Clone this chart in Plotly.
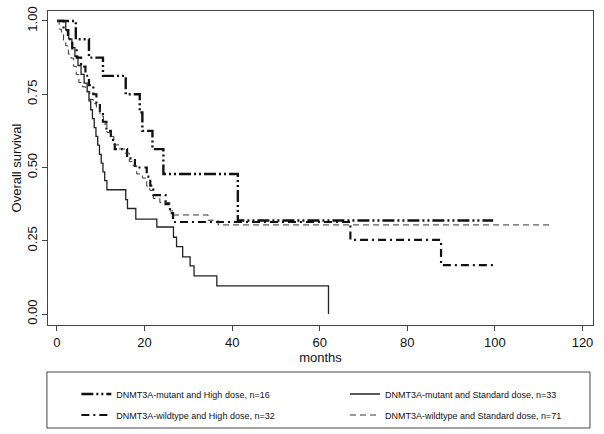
import plotly.graph_objects as go

# ---- data ----
mut_high_t = [0, 4.3, 7.3, 10.5, 15.7, 18.9, 19.5, 21.8, 24.3, 41.3, 99.6]
mut_high_s = [1.0, 0.9375, 0.875, 0.8125, 0.75, 0.6875, 0.625, 0.5625, 0.478, 0.319, 0.319]

mut_std_t = [0, 2.0, 2.7, 3.4, 4.1, 4.8, 5.5, 6.2, 6.9, 7.3, 7.7, 8.1, 8.5, 8.9, 9.3, 9.7,
             10.1, 10.5, 10.9, 11.4, 15.7, 16.1, 18.0, 22.8, 26.6, 27.3, 28.7, 30.4, 31.3,
             36.5, 62.0]
mut_std_s = [1.0, 0.970, 0.939, 0.909, 0.879, 0.848, 0.818, 0.788, 0.758, 0.727, 0.697,
             0.667, 0.636, 0.606, 0.576, 0.545, 0.515, 0.485, 0.455, 0.424, 0.39, 0.36,
             0.324, 0.297, 0.262, 0.23, 0.195, 0.164, 0.13, 0.096, 0.0]

wt_high_t = [0, 1.5, 2.5, 3.5, 4.5, 5.5, 6.5, 7.3, 8.3, 9.0, 9.8, 10.5, 11.3, 12.3, 13.2,
             16.0, 17.8, 20.5, 21.3, 22.0, 24.8, 25.8, 26.5, 67.0, 87.7, 99.8]
wt_high_s = [1.0, 0.969, 0.938, 0.906, 0.875, 0.844, 0.813, 0.781, 0.75, 0.719, 0.688,
             0.656, 0.625, 0.594, 0.563, 0.531, 0.50, 0.469, 0.438, 0.406, 0.375, 0.344,
             0.314, 0.253, 0.167, 0.167]

wt_std_t = [0, 0.5, 1.0, 1.5, 2.0, 2.6, 3.2, 3.8, 4.4, 5.0, 5.8, 6.6, 7.5, 8.3, 9.0, 9.8,
            10.6, 11.4, 12.2, 13.0, 14.2, 15.5, 16.5, 17.4, 18.2, 19.5, 20.5, 21.2, 22.0,
            23.5, 25.8, 26.5, 34.5, 36.8, 113.0]
wt_std_s = [1.0, 0.972, 0.958, 0.93, 0.915, 0.887, 0.873, 0.845, 0.817, 0.79, 0.775, 0.76,
            0.732, 0.718, 0.704, 0.676, 0.648, 0.62, 0.606, 0.577, 0.563, 0.549, 0.52,
            0.506, 0.478, 0.464, 0.436, 0.422, 0.394, 0.38, 0.352, 0.338, 0.32, 0.304, 0.304]

names = ["DNMT3A-mutant and High dose, n=16",
         "DNMT3A-mutant and Standard dose, n=33",
         "DNMT3A-wildtype and High dose, n=32",
         "DNMT3A-wildtype and Standard dose, n=71"]

x_ticks = [0, 20, 40, 60, 80, 100, 120]
y_ticks = [0, 0.25, 0.5, 0.75, 1.0]
y_tick_labels = ["0.00", "0.25", "0.50", "0.75", "1.00"]

FONT = "Liberation Sans, Arial, Helvetica, sans-serif"

fig = go.Figure()
fig.add_trace(go.Scatter(x=mut_high_t, y=mut_high_s, mode="lines", line_shape="hv",
                         name=names[0], legend="legend", showlegend=True,
                         line=dict(color="#111", width=2.4, dash="12px,3px,2px,3px,2px,3px")))
fig.add_trace(go.Scatter(x=mut_std_t, y=mut_std_s, mode="lines", line_shape="hv",
                         name=names[1], legend="legend2", showlegend=True,
                         line=dict(color="#222", width=1.3)))
fig.add_trace(go.Scatter(x=wt_high_t, y=wt_high_s, mode="lines", line_shape="hv",
                         name=names[2], legend="legend3", showlegend=True,
                         line=dict(color="#111", width=2.2, dash="8px,4px,2px,4px")))
fig.add_trace(go.Scatter(x=wt_std_t, y=wt_std_s, mode="lines", line_shape="hv",
                         name=names[3], legend="legend4", showlegend=True,
                         line=dict(color="#333", width=1.0, dash="6px,4px")))

axis_common = dict(showline=True, linecolor="#444", linewidth=1, mirror=True,
                   ticks="outside", ticklen=5, tickcolor="#444", showgrid=False,
                   zeroline=False, automargin=False,
                   tickfont=dict(family=FONT, size=13, color="#111"))

fig.update_xaxes(range=[-2.05, 122.4], tickvals=x_ticks,
                 title=dict(text="months", font=dict(family=FONT, size=13, color="#111"),
                            standoff=0), **axis_common)
fig.update_yaxes(range=[-0.0375, 1.034], tickvals=y_ticks, ticktext=y_tick_labels,
                 tickangle=-90,
                 title=dict(text="Overall survival", font=dict(family=FONT, size=13, color="#111"),
                            standoff=0), **axis_common)

H = 434
leg_common = dict(orientation="h", xanchor="left", yanchor="middle", yref="container",
                  font=dict(family=FONT, size=9, color="#111"),
                  bgcolor="rgba(0,0,0,0)", borderwidth=0, visible=True)
col1, col2 = 0.052, 0.545
row1, row2 = (H - 394) / H, (H - 415) / H

fig.update_layout(
    width=604, height=H,
    margin=dict(l=48, r=11, t=11, b=109),
    plot_bgcolor="white", paper_bgcolor="white",
    font=dict(family=FONT),
    showlegend=True,
    legend=dict(x=col1, y=row1, **leg_common),
    legend2=dict(x=col2, y=row1, **leg_common),
    legend3=dict(x=col1, y=row2, **leg_common),
    legend4=dict(x=col2, y=row2, **leg_common),
    shapes=[dict(type="rect", xref="paper", yref="paper",
                 x0=-0.002, x1=0.9945, y0=(325 - 428) / 314, y1=(325 - 372) / 314,
                 line=dict(color="#444", width=1), fillcolor="rgba(0,0,0,0)")],
)

fig.write_html("out.html", config={"displayModeBar": False},
               post_script="document.body.style.margin='0';")
